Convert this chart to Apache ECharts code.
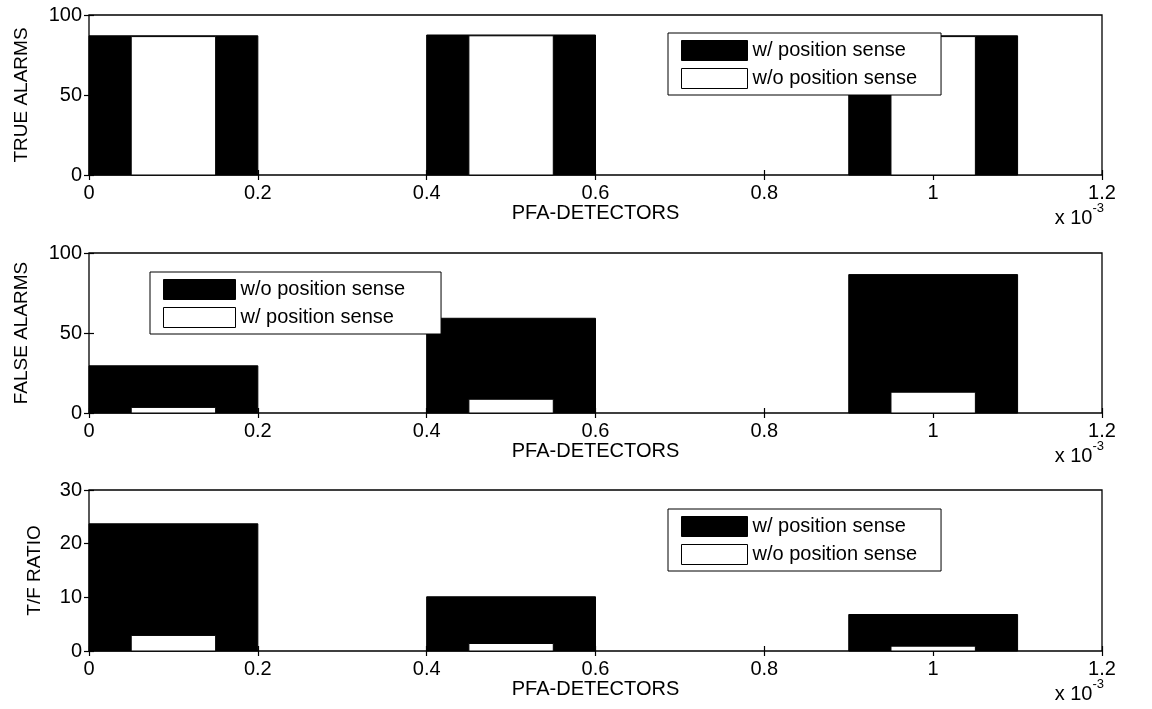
<!DOCTYPE html>
<html>
<head>
<meta charset="utf-8">
<title>PFA detectors</title>
<script src="https://cdn.jsdelivr.net/npm/echarts@6/dist/echarts.min.js"></script>
<style>
  html, body { margin: 0; padding: 0; background: #fff; }
  #chart { width: 1152px; height: 709px; }
</style>
</head>
<body>
<div id="chart"></div>
<script>
// x values are in units of 1e-3 (shown as "x 10^-3" under each axis)
const binCenters = [0.1, 0.5, 1.0]
const wideBar = 0.2   // black bars
const narrowBar = 0.1 // white bars

const trueWith = [87, 87.5, 87]
const trueWithout = [86.5, 87, 86.5]
const falseWithout = [29.5, 59.2, 86.5]
const falseWith = [3.5, 8.6, 13]
const ratioWith = [23.7, 10.1, 6.8]
const ratioWithout = [2.9, 1.4, 0.9]

const FONT = "'Liberation Sans', Arial, Helvetica, sans-serif"
const chart = echarts.init(document.getElementById('chart'))

// grid boxes, top / height of each panel
const panels = [
  { top: 15, height: 160, yMax: 100, yStep: 50, yName: 'TRUE ALARMS', nameGap: 58 },
  { top: 253, height: 160, yMax: 100, yStep: 50, yName: 'FALSE ALARMS', nameGap: 58 },
  { top: 490, height: 161, yMax: 30, yStep: 10, yName: 'T/F RATIO', nameGap: 45 }
]

function barRenderer(width) {
  return function (params, api) {
    const x = api.value(0)
    const y = api.value(1)
    const p0 = api.coord([x - width / 2, y])
    const p1 = api.coord([x + width / 2, 0])
    return {
      type: 'rect',
      shape: { x: p0[0], y: p0[1], width: p1[0] - p0[0], height: p1[1] - p0[1] },
      style: api.style()
    }
  }
}

function bars(name, idx, values, width, color) {
  return {
    name: name,
    type: 'custom',
    xAxisIndex: idx * 2,
    yAxisIndex: idx * 2,
    renderItem: barRenderer(width),
    encode: { x: 0, y: 1 },
    itemStyle: { color: color, borderColor: '#000', borderWidth: 1 },
    data: binCenters.map((c, i) => [c, values[i]])
  }
}

function legendBox(left, top, first, second, swatchW, padRight) {
  return {
    left: left,
    top: top,
    orient: 'vertical',
    icon: 'rect',
    itemWidth: swatchW,
    itemHeight: 20,
    itemGap: 7,
    padding: [7, padRight, 6, 13],
    borderColor: '#000',
    borderWidth: 1,
    backgroundColor: '#fff',
    selectedMode: false,
    textStyle: { fontSize: 20, color: '#000', fontFamily: FONT },
    data: [
      { name: first, itemStyle: { color: '#000', borderColor: '#000', borderWidth: 1 } },
      { name: second, itemStyle: { color: '#fff', borderColor: '#000', borderWidth: 1 } }
    ]
  }
}

const grids = [], xAxes = [], yAxes = [], scaleTexts = []
panels.forEach((p, i) => {
  grids.push({
    left: 89, right: 50, top: p.top, height: p.height,
    show: true, borderColor: '#000', borderWidth: 1.3, backgroundColor: '#fff'
  })
  // bottom axis with labels, top axis just for inner ticks
  xAxes.push({
    type: 'value', gridIndex: i, min: 0, max: 1.2, interval: 0.2,
    name: 'PFA-DETECTORS', nameLocation: 'middle', nameGap: 27,
    nameTextStyle: { fontSize: 20, color: '#000', fontFamily: FONT },
    axisLine: { show: false },
    axisTick: { inside: true, length: 5, lineStyle: { color: '#000', width: 1.2 } },
    axisLabel: {
      margin: 8, fontSize: 20, color: '#000', fontFamily: FONT,
      formatter: v => String(parseFloat(v.toFixed(1)))
    },
    splitLine: { show: false }
  })
  xAxes.push({
    type: 'value', gridIndex: i, min: 0, max: 1.2, interval: 0.2, position: 'top',
    axisLine: { show: false },
    axisTick: { inside: true, length: 5, lineStyle: { color: '#000', width: 1.2 } },
    axisLabel: { show: false },
    splitLine: { show: false }
  })
  yAxes.push({
    type: 'value', gridIndex: i, min: 0, max: p.yMax, interval: p.yStep,
    name: p.yName, nameLocation: 'middle', nameRotate: 90, nameGap: p.nameGap,
    nameTextStyle: { fontSize: 19, color: '#000', fontFamily: FONT },
    axisLine: { show: false },
    axisTick: { inside: true, length: 5, lineStyle: { color: '#000', width: 1.2 } },
    axisLabel: { margin: 7, fontSize: 20, color: '#000', fontFamily: FONT },
    splitLine: { show: false }
  })
  yAxes.push({
    type: 'value', gridIndex: i, min: 0, max: p.yMax, interval: p.yStep, position: 'right',
    axisLine: { show: false },
    axisTick: { inside: true, length: 5, lineStyle: { color: '#000', width: 1.2 } },
    axisLabel: { show: false },
    splitLine: { show: false }
  })
  scaleTexts.push({
    type: 'text',
    right: 48,
    top: p.top + p.height + 27,
    style: {
      text: '{a|x 10}{b|-3}',
      fill: '#000',
      rich: {
        a: { fontSize: 20, fontFamily: FONT, lineHeight: 26, verticalAlign: 'bottom' },
        b: { fontSize: 13, fontFamily: FONT, verticalAlign: 'top' }
      }
    }
  })
})

chart.setOption({
  animation: false,
  backgroundColor: '#fff',
  grid: grids,
  xAxis: xAxes,
  yAxis: yAxes,
  legend: [
    legendBox(668, 33, 'w/ position sense', 'w/o position sense', 66, 24),
    legendBox(150, 272, 'w/o position sense', 'w/ position sense', 72, 36),
    legendBox(668, 509, 'w/ position sense', 'w/o position sense', 66, 24)
  ],
  graphic: scaleTexts,
  series: [
    bars('w/ position sense', 0, trueWith, wideBar, '#000'),
    bars('w/o position sense', 0, trueWithout, narrowBar, '#fff'),
    bars('w/o position sense', 1, falseWithout, wideBar, '#000'),
    bars('w/ position sense', 1, falseWith, narrowBar, '#fff'),
    bars('w/ position sense', 2, ratioWith, wideBar, '#000'),
    bars('w/o position sense', 2, ratioWithout, narrowBar, '#fff')
  ]
})
</script>
</body>
</html>
